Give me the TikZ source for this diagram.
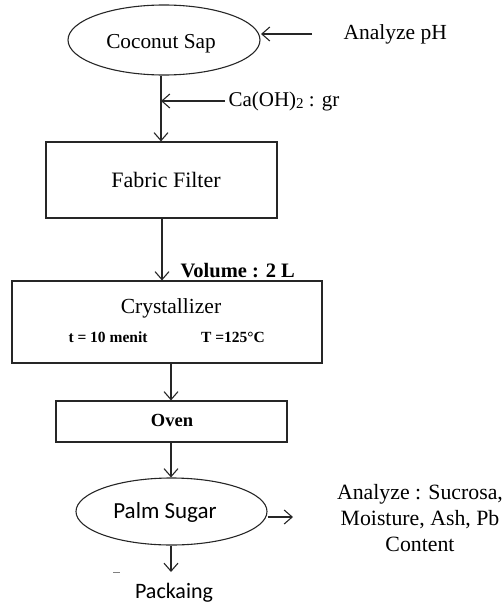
\documentclass[tikz,border=0pt]{standalone}
\usepackage{fontspec}
\setmainfont{Liberation Serif}
\newfontfamily\calib{Carlito}
\usetikzlibrary{arrows.meta,shapes.geometric}
\begin{document}
\begin{tikzpicture}[x=1pt,y=-1pt,
  line width=1.1pt, draw=black!85,
  arr/.style={-{Straight Barb[length=8pt,width=14pt,line width=1.1pt]}},
  boxn/.style={draw, rectangle, inner sep=0pt},
  ell/.style={draw, ellipse, inner sep=0pt},
  txt/.style={inner sep=0pt, font=\fontsize{20}{24}\selectfont}]
\useasboundingbox (0,0) rectangle (502,605);
% nodes
\node[ell, minimum width=192pt, minimum height=70pt] (sap) at (164,40) {};
\node[txt, font=\fontsize{21.3}{25}\selectfont] (saptxt) at (161,44) {Coconut Sap};
\node[txt, anchor=west, font=\fontsize{21.5}{25}\selectfont] (ph) at (343,34) {Analyze pH};
\coordinate (phs) at (312,34);
\coordinate (phe) at (261,34);
\node[boxn, minimum width=231pt, minimum height=76pt] (ff) at (161.5,180) {};
\node[txt, font=\fontsize{22}{26}\selectfont] (fftxt) at (166,180) {Fabric Filter};
\node[txt, anchor=west, font=\fontsize{21}{25}\selectfont] (ca) at (228,101) {Ca(OH)\raisebox{-0.25ex}{\fontsize{15}{17}\selectfont 2} : gr};
\coordinate (cas) at (225,101);
\coordinate (caj) at (161,101);
\node[boxn, minimum width=310pt, minimum height=82pt] (cr) at (167,322) {};
\node[txt, font=\fontsize{21.5}{25}\selectfont] (crtxt) at (171,308) {Crystallizer};
\node[txt, font=\bfseries\fontsize{15.5}{18}\selectfont] (t1) at (108,337) {t = 10 menit};
\node[txt, font=\bfseries\fontsize{15.5}{18}\selectfont] (t2) at (233,337) {T =125°C};
\node[txt, anchor=west, font=\bfseries\fontsize{20.5}{24}\selectfont] (vol) at (180,271) {Volume : 2 L};
\node[boxn, minimum width=231pt, minimum height=41pt] (ov) at (171.5,421.5) {};
\node[txt, font=\bfseries\fontsize{18.5}{22}\selectfont] (ovtxt) at (172,420) {Oven};
\node[ell, minimum width=191pt, minimum height=67pt] (ps) at (171.5,511.5) {};
\node[txt, font=\calib\fontsize{23}{27}\selectfont] (pstxt) at (165,512) {Palm Sugar};
\node[txt, align=center, font=\fontsize{21.8}{26}\selectfont] (an) at (420,518) {Analyze : Sucrosa,\\Moisture, Ash, Pb\\Content};
\coordinate (ane) at (293,517);
\node[txt, font=\calib\fontsize{22}{26}\selectfont] (pk) at (174,593) {Packaing};
% connectors
\draw[arr] (phs) -- (phe);
\draw[arr] (sap.south -| caj) -- (ff.north -| caj);
\draw[arr] (cas) -- (caj);
\draw[arr] (ff.south -| 162,0) -- (cr.north -| 162,0);
\draw[arr] (cr.south -| 171,0) -- (ov.north -| 171,0);
\draw[arr] (ov.south -| 171,0) -- (ps.north -| 171,0);
\draw[arr] (ps.east |- ane) -- (ane);
\draw[arr] (ps.south -| 171,0) -- (171,572);
\draw[line width=0.8pt, draw=black!50] (113,572) -- (120,572);
\end{tikzpicture}
\end{document}
